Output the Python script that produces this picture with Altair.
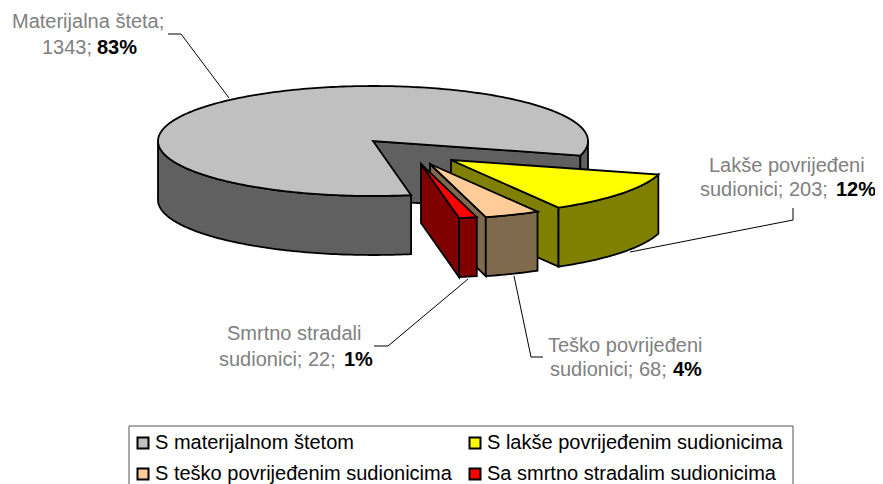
import math
import altair as alt

FONT = "Liberation Sans"

# Chart values
series = ["S materijalnom štetom", "S lakše povrijeđenim sudionicima",
          "S teško povrijeđenim sudionicima", "Sa smrtno stradalim sudionicima"]
values = [1343, 203, 68, 22]
top_colors = ["#C0C0C0", "#FFFF00", "#FFCC99", "#FF0000"]
side_colors = ["#606060", "#808000", "#806A4D", "#800000"]

# Pie layout (exploded apex of every slice, in page pixels)
apex_x = [373, 451, 430, 421]
apex_y = [141, 160, 164, 164]
RX, RY, DEPTH = 215, 55, 59
FIRST_ANGLE = 79.8

# Labels: text, left edge, baseline
gray_text = ["Materijalna šteta;", "1343; ", "Lakše povrijeđeni", "sudionici; 203; ",
             "Teško povrijeđeni", "sudionici; 68; ", "Smrtno stradali", "sudionici; 22; "]
gray_x = [12, 42, 709, 700, 548, 550, 227, 219]
gray_y = [28, 54, 172, 196, 352, 376, 340, 366]
bold_text = ["83%", "12%", "4%", "1%"]
bold_x = [97, 836, 673, 344]
bold_y = [54, 196, 376, 366]

# Leader lines
leader_id = [0, 0, 0, 1, 1, 1, 2, 2, 2, 3, 3, 3]
leader_x = [168, 181, 229, 793, 793, 630, 543, 531, 514, 374, 388, 468]
leader_y = [34, 34, 98, 208, 220, 252, 357, 357, 276, 346, 346, 279]

# Legend frame (runs past the bottom of the picture)
frame_x, frame_x2 = [129], [793]
frame_y, frame_y2 = [426], [500]


def point(i, t, z=0):
    a = math.radians(t)
    return [apex_x[i] + RX * math.cos(a), apex_y[i] + RY * math.sin(a) + z]


def arc(i, t0, t1, z=0):
    n = max(2, int(abs(t1 - t0)) + 1)
    return [point(i, t0 + (t1 - t0) * k / (n - 1), z) for k in range(n)]


def feature(face, ring):
    ring = ring + [ring[0]]
    return {"type": "Feature", "properties": {"face": face},
            "geometry": {"type": "Polygon", "coordinates": [ring]}}


features = []
total = sum(values)
start = FIRST_ANGLE
for i, v in enumerate(values):
    end = start + 360 * v / total
    side = "side" + str(i)
    c = [apex_x[i], apex_y[i]]
    # radial cut facing the viewer
    features.append(feature(side, [c, point(i, end), point(i, end, DEPTH), [c[0], c[1] + DEPTH]]))
    # visible parts of the outer wall
    for lo, hi in ((0, 180), (360, 540)):
        a, b = max(start, lo), min(end, hi)
        if b > a:
            features.append(feature(side, arc(i, a, b) + arc(i, b, a, DEPTH)))
    # top face
    features.append(feature(series[i], [c] + arc(i, start, end)))
    start = end

domain = series + ["side" + str(i) for i in range(4)]
color_range = top_colors + side_colors

pie = alt.Chart(alt.Data(values=features)).mark_geoshape(
    stroke="black", strokeWidth=1.8, strokeJoin="miter"
).encode(
    color=alt.Color(
        "properties.face:N",
        scale=alt.Scale(domain=domain, range=color_range),
        legend=alt.Legend(
            title=None, values=series, orient="none", legendX=125, legendY=425,
            direction="horizontal", columns=2, columnPadding=13, rowPadding=11,
            symbolType="square", symbolSize=121, symbolStrokeColor="black",
            symbolStrokeWidth=2, symbolOpacity=1, labelFont=FONT, labelFontSize=20,
            labelColor="black", labelOffset=2, labelLimit=400, padding=0,
        ),
    )
).project(type="identity", scale=1, translate=[-8, -8])

W, H = 867, 476
x_scale = alt.Scale(domain=[8, 8 + W], range=[0, W], nice=False, zero=False)
y_scale = alt.Scale(domain=[8, 8 + H], range=[0, H], nice=False, zero=False)

frame = alt.Chart(alt.Data(values=[
    {"x": a, "x2": b, "y": c, "y2": d}
    for a, b, c, d in zip(frame_x, frame_x2, frame_y, frame_y2)
])).mark_rect(fill="white", stroke="#555555", strokeWidth=1).encode(
    x=alt.X("x:Q", scale=x_scale, axis=None), x2="x2:Q",
    y=alt.Y("y:Q", scale=y_scale, axis=None), y2="y2:Q",
)

leader_rows = [{"id": a, "x": b, "y": c} for a, b, c in zip(leader_id, leader_x, leader_y)]
leaders = alt.Chart(alt.Data(values=[dict(r, o=k) for k, r in enumerate(leader_rows)])).mark_line(
    color="black", strokeWidth=1
).encode(
    x=alt.X("x:Q", scale=x_scale, axis=None),
    y=alt.Y("y:Q", scale=y_scale, axis=None),
    detail="id:N", order="o:Q",
)

gray_rows = [{"t": a, "x": b, "y": c} for a, b, c in zip(gray_text, gray_x, gray_y)]
bold_rows = [{"t": a, "x": b, "y": c} for a, b, c in zip(bold_text, bold_x, bold_y)]

gray_labels = alt.Chart(alt.Data(values=gray_rows)).mark_text(
    align="left", baseline="alphabetic", font=FONT, fontSize=20, color="#808080"
).encode(x=alt.X("x:Q", scale=x_scale, axis=None), y=alt.Y("y:Q", scale=y_scale, axis=None), text="t:N")

bold_labels = alt.Chart(alt.Data(values=bold_rows)).mark_text(
    align="left", baseline="alphabetic", font=FONT, fontSize=20, fontWeight="bold", color="black"
).encode(x=alt.X("x:Q", scale=x_scale, axis=None), y=alt.Y("y:Q", scale=y_scale, axis=None), text="t:N")

chart = alt.layer(frame, leaders, pie, gray_labels, bold_labels).properties(
    width=W, height=H, padding=0, autosize=alt.AutoSizeParams(type="none"),
    background="white",
).configure_view(stroke=None)

chart.save("out.html", embed_options={"renderer": "svg", "actions": False})
